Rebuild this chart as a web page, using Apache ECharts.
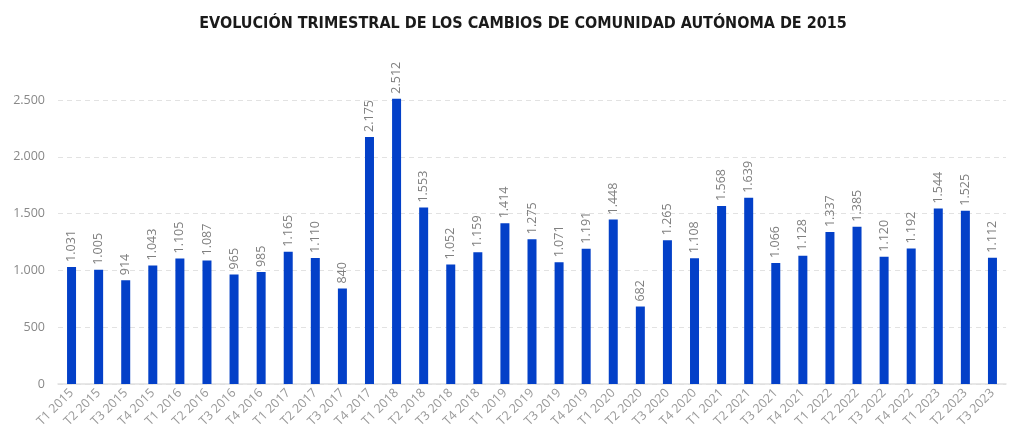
<!DOCTYPE html>
<html>
<head>
<meta charset="utf-8">
<script src="https://cdn.jsdelivr.net/npm/echarts@6/dist/echarts.min.js"></script>
<style>
  html, body { margin: 0; padding: 0; background: #fff; }
  #chartID { width: 1024px; height: 446px; }
</style>
</head>
<body>
<div id="chartID"></div>
<script>
var quarters = [
    'T1 2015', 'T2 2015', 'T3 2015', 'T4 2015',
    'T1 2016', 'T2 2016', 'T3 2016', 'T4 2016',
    'T1 2017', 'T2 2017', 'T3 2017', 'T4 2017',
    'T1 2018', 'T2 2018', 'T3 2018', 'T4 2018',
    'T1 2019', 'T2 2019', 'T3 2019', 'T4 2019',
    'T1 2020', 'T2 2020', 'T3 2020', 'T4 2020',
    'T1 2021', 'T2 2021', 'T3 2021', 'T4 2021',
    'T1 2022', 'T2 2022', 'T3 2022', 'T4 2022',
    'T1 2023', 'T2 2023', 'T3 2023'
];

var cambios = [
    1031, 1005, 914, 1043,
    1105, 1087, 965, 985,
    1165, 1110, 840, 2175,
    2512, 1553, 1052, 1159,
    1414, 1275, 1071, 1191,
    1448, 682, 1265, 1108,
    1568, 1639, 1066, 1128,
    1337, 1385, 1120, 1192,
    1544, 1525, 1112
];

var yTicks = [0, 500, 1000, 1500, 2000, 2500];

// separador de miles con punto
function fmt(v) {
    return String(v).replace(/\B(?=(\d{3})+(?!\d))/g, '.');
}

var chart = echarts.init(document.getElementById('chartID'));

var option = {
    backgroundColor: '#ffffff',
    animation: false,
    title: {
        text: 'EVOLUCIÓN TRIMESTRAL DE LOS CAMBIOS DE COMUNIDAD AUTÓNOMA DE 2015',
        left: 518,
        top: 11,
        textAlign: 'center',
        textStyle: {
            fontFamily: 'DejaVu Sans Condensed',
            fontSize: 16,
            fontWeight: 'bold',
            color: '#1a1a1a'
        }
    },
    grid: {
        left: 58,
        right: 18,
        top: 100,
        bottom: 62
    },
    xAxis: {
        type: 'category',
        data: quarters,
        axisLine: { lineStyle: { color: '#e0e0e0', width: 1.5 } },
        axisTick: { show: false },
        axisLabel: {
            rotate: 45,
            interval: 0,
            color: '#999',
            fontSize: 12.5,
            fontFamily: 'Open Sans',
            margin: 7
        }
    },
    yAxis: {
        type: 'value',
        min: yTicks[0],
        max: yTicks[yTicks.length - 1],
        interval: 500,
        axisLine: { show: false },
        axisTick: { show: false },
        axisLabel: {
            color: '#888',
            fontSize: 12.5,
            fontFamily: 'Open Sans',
            margin: 13,
            formatter: function (v) { return fmt(v); }
        },
        splitLine: { lineStyle: { color: '#e2e2e2', type: [5, 4] } }
    },
    series: [
        {
            name: 'Cambios',
            type: 'bar',
            data: cambios,
            barWidth: 9,
            clip: false,
            itemStyle: { color: '#0340c8' },
            label: {
                show: true,
                position: 'top',
                rotate: 90,
                align: 'left',
                verticalAlign: 'middle',
                distance: 5,
                color: '#808080',
                fontSize: 12.5,
                fontFamily: 'Open Sans',
                formatter: function (p) { return fmt(p.value); }
            }
        }
    ]
};

option && chart.setOption(option);
</script>
</body>
</html>
